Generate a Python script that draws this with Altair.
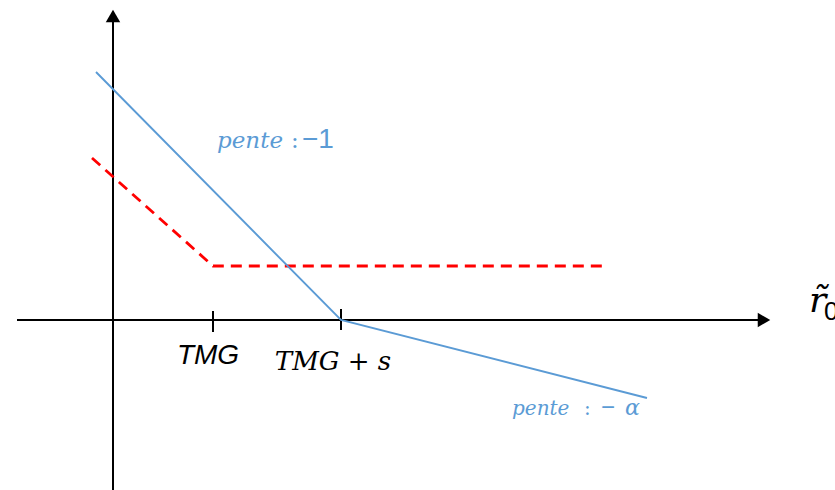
import altair as alt
import pandas as pd

# Diagram coordinates: origin at the axes' crossing, y pointing up
blue_x = [-17, 228, 534]
blue_y = [248, 0, -78]
red_x = [-21, 100, 495]
red_y = [162, 54, 54]
tick_x = [100, 228]
tick_labels = ["TMG", "TMG + s"]

X_DOM = [-113, 722]
Y_DOM = [-170, 320]

xs = alt.Scale(domain=X_DOM, nice=False, zero=False)
ys = alt.Scale(domain=Y_DOM, nice=False, zero=False)
BLUE = "#5B9BD5"


def enc(x="x", y="y", **kw):
    return dict(
        x=alt.X(x, type="quantitative", scale=xs, axis=None),
        y=alt.Y(y, type="quantitative", scale=ys, axis=None),
        **kw,
    )


def label(x, y, text, font, size, color="black", style="normal", align="left"):
    df = pd.DataFrame({"x": [x], "y": [y], "t": [text]})
    return alt.Chart(df).mark_text(
        font=font, fontStyle=style, fontSize=size, align=align,
        baseline="alphabetic", color=color,
    ).encode(**enc(text="t:N"))


blue = pd.DataFrame({"x": blue_x, "y": blue_y, "o": range(3)})
red = pd.DataFrame({"x": red_x, "y": red_y, "o": range(3)})

# axes drawn as lines
axes = pd.DataFrame({
    "x": [-96, 645, 0, 0],
    "y": [0, 0, -170, 300],
    "g": ["h", "h", "v", "v"],
})
axis_lines = alt.Chart(axes).mark_line(color="black", strokeWidth=2).encode(
    **enc(detail="g:N")
)

arrows = pd.DataFrame({"x": [651, 0], "y": [0, 304], "s": ["triangle-right", "triangle-up"]})
arrow_marks = alt.Chart(arrows).mark_point(filled=True, color="black", opacity=1, size=210).encode(
    **enc(shape=alt.Shape("s:N", scale=None, legend=None))
)

ticks = pd.DataFrame({"x": tick_x + tick_x, "y": [-12, -10, 9, 11], "t": [0, 1, 0, 1]})
tick_marks = alt.Chart(ticks).mark_line(color="black", strokeWidth=2).encode(**enc(detail="t:N"))

blue_line = alt.Chart(blue).mark_line(color=BLUE, strokeWidth=1.9).encode(**enc(order="o:O"))
red_line = alt.Chart(red).mark_line(color="#FF0000", strokeWidth=2.8, strokeDash=[11, 7]).encode(
    **enc(order="o:O")
)

texts = [
    label(tick_x[0] - 5, -44, tick_labels[0], "Liberation Sans", 28, style="italic", align="center"),
    label(tick_x[1] - 8, -50, tick_labels[1], "DejaVu Serif", 26, style="italic", align="center"),
    # slope annotations
    label(104, 172, "pente", "DejaVu Serif", 23, BLUE, "italic"),
    label(178, 172, ":", "DejaVu Serif", 23, BLUE),
    label(189, 172, "\u22121", "Liberation Sans", 28, BLUE),
    label(399, -95, "pente", "DejaVu Serif", 20, BLUE, "italic"),
    label(471, -95, ":", "DejaVu Serif", 20, BLUE),
    label(488, -95, "\u2212", "Liberation Sans", 24, BLUE),
    label(512, -95, "\u03b1", "DejaVu Serif", 22, BLUE, "italic"),
    # axis name
    label(696, 8, "r\u0303", "DejaVu Serif", 36, style="italic"),
    label(711, 0, "0", "Liberation Sans", 26),
]

chart = alt.layer(
    axis_lines, tick_marks, arrow_marks, red_line, blue_line, *texts
).properties(
    width=835, height=490, padding=0, autosize=alt.AutoSizeParams(type="none"), background="white"
).configure_view(stroke=None)

chart.save("out.html", embed_options={"renderer": "svg", "actions": False})
